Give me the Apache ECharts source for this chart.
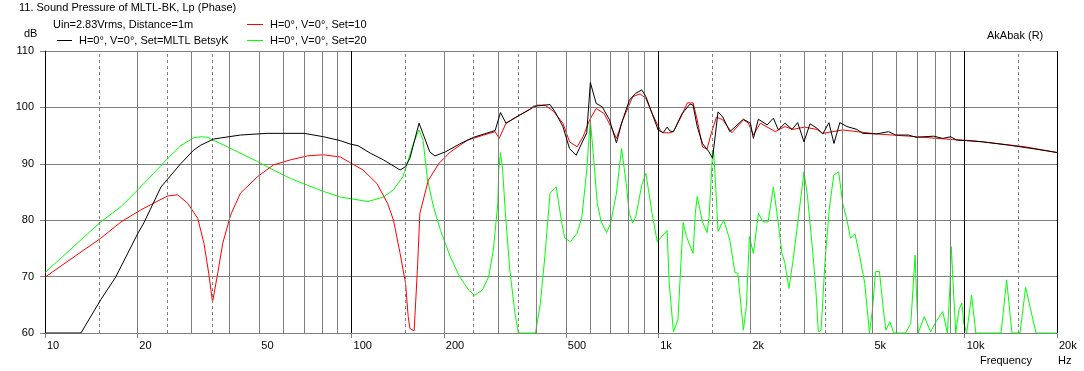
<!DOCTYPE html>
<html>
<head>
<meta charset="utf-8">
<script src="https://cdn.jsdelivr.net/npm/echarts@6/dist/echarts.min.js"></script>
<style>html,body{margin:0;padding:0;background:#fff}#c{width:1084px;height:371px}</style>
</head>
<body>
<div id="c"></div>
<script>
// ---- data ----
const blackFreq = [10,13.1,15.2,17.0,20.1,21.0,23.9,27.7,30.5,32.2,35.5,43.4,53,70,81,92,99,105,115,127,144,150,155,166,180,187,202,225,250,294,306,319,355,383,392,444,461,489,514,540,564,585,601,628,657,694,731,760,806,845,884,912,956,1000,1038,1070,1094,1122,1197,1271,1300,1341,1395,1466,1505,1568,1625,1713,1897,2000,2045,2123,2268,2376,2467,2592,2734,2852,2990,3130,3296,3445,3606,3745,3914,4131,4449,4650,5159,5642,5960,6560,6940,7920,8480,8990,9420,10150,11420,13980,17080,20000];
const blackDb = [60,60,65.9,69.9,77.7,79.5,85.9,90.0,92.4,93.3,94.4,95.1,95.4,95.4,94.8,94.1,93.5,93.2,91.9,90.7,88.9,89.5,91.0,97.2,92.1,91.4,92.1,93.5,94.7,95.9,99.1,97.2,98.7,99.7,100.2,100.5,99.2,96.6,92.7,91.5,93.7,95.5,104.4,100.7,100.1,97.8,93.7,97.2,101.3,102.5,103.1,101.9,98.9,96.0,95.5,96.5,95.8,95.7,98.9,100.6,100.4,96.6,93.6,92.1,91.0,99.2,98.3,95.7,97.9,97.2,94.5,97.9,96.9,98.1,96.0,97.2,96.1,97.3,93.9,97.1,96.3,95.3,97.3,93.6,97.3,96.6,96.1,95.4,95.3,95.7,95.1,95.1,94.7,94.9,94.5,94.8,94.2,94.1,93.9,93.3,92.6,92.0];

const redFreq = [10,15.2,17.7,20.5,23.9,25.2,27.1,29.2,31.5,33.0,34.2,35.2,36.6,38.0,40.3,43.4,49.3,55.6,63.2,71.8,81,92,99,109,121,131,137,144,150,153,155,160,164,167,178,193,210,239,270,294,303,319,355,383,403,427,454,489,514,544,569,598,628,667,710,731,767,826,873,912,956,1015,1038,1094,1122,1197,1245,1300,1341,1395,1444,1490,1550,1625,1740,1897,1970,2045,2155,2412,2592,2747,3003,3296,3445,4000,5159,6560,9120,10610,15800,20000];
const redDb = [69.9,76.8,79.7,81.8,83.7,84.3,84.5,83.0,80.3,75.9,70.6,65.5,70.6,75.9,80.9,84.8,87.7,89.8,90.7,91.4,91.6,91.2,90.2,88.9,86.5,83.0,80.0,74.1,68.8,62.9,60.8,60.4,71.3,81.2,87.1,90.1,92.1,94.2,95.1,95.7,94.5,97.2,98.7,99.7,100.4,100.4,99.4,97.2,93.9,93.0,94.8,97.8,99.8,98.9,96.0,94.5,97.8,101.9,102.4,101.6,98.9,96.0,95.5,95.5,95.7,98.7,100.8,100.8,97.8,93.0,92.6,95.4,98.3,97.8,95.5,97.8,97.2,95.1,97.2,95.7,96.6,96.1,96.5,96.1,95.4,96.0,95.3,94.9,94.3,94.1,93.0,92.0];

const greenFreq = [10,15.2,17.7,20.1,22.6,25.2,27.7,30.5,32.2,33.9,39.4,49.3,55.6,63.2,71.8,81,92,105,113,127,137,147,152,159,166,171,177,185,195,210,225,241,252,267,280,290,300,302,306,311,317,328,341,350,398,413,427,444,465,485,496,518,544,564,585,601,614,633,652,679,700,731,760,787,805,826,845,884,912,956,993,1070,1086,1122,1160,1206,1237,1300,1322,1341,1395,1444,1466,1505,1515,1543,1568,1637,1713,1780,1820,1897,1940,1985,2045,2123,2200,2285,2376,2450,2536,2592,2670,2747,2870,2990,3070,3190,3270,3330,3400,3505,3615,3740,3880,4000,4130,4240,4385,4550,4720,4890,5000,5120,5270,5430,5530,5700,5870,6410,6670,6890,6940,7050,7380,7740,8000,8480,8780,8950,9040,9120,9210,9350,9570,9780,9930,10150,10530,10870,13140,13700,14260,15150,15800,17080,20000];
const greenDb = [70.7,79.7,82.4,85.4,88.3,91.0,93.2,94.6,94.8,94.7,93.0,90.4,88.9,87.4,86.2,85.1,84.1,83.6,83.3,84.1,85.4,87.7,90.1,93.6,96.0,94.2,87.1,82.4,78.2,73.5,70.0,67.6,66.7,67.6,70.0,74.7,83.0,88.9,92.0,88.9,81.8,71.3,63.6,60,60,65.3,73.5,84.8,85.9,79.5,76.8,76.2,77.7,80.6,88.9,97.8,91.9,83.0,79.7,77.8,79.5,84.8,92.7,86.5,81.2,79.5,80.6,86.2,88.3,81.2,76.2,78.2,69.0,60.2,62.3,79.6,77.1,74.1,81.2,84.2,79.7,77.8,80.6,91.9,92.7,85.4,78.0,80.0,76.5,70.7,70.6,60.5,64.7,77.1,74.1,81.2,79.7,79.7,85.9,80.6,74.1,72.4,67.9,72.4,80.6,88.6,84.2,74.7,67.6,60.2,60.5,73.0,81.9,88.0,88.6,83.0,80.0,76.8,77.6,73.5,68.8,60,64.1,70.9,70.9,64.1,60.5,62.0,60,60,61.7,73.8,68.8,60,62.9,60.2,61.7,63.8,60,68.2,75.3,71.2,66.5,60,64.1,65.3,61.7,60,66.7,60,60,69.4,60,60,68.1,60,60];

const xLabelValues = [10,20,50,100,200,500,1000,2000,5000,10000,20000];
const xTickValues = [10,20,100,200,500,1000,10000,20000];
const xSolidGrid = [20,30,40,50,60,70,80,90,200,300,400,500,600,700,800,900,2000,3000,4000,5000,6000,7000,8000,9000];
const xBlackGrid = [100,1000,10000,20000];
const xDashedGrid = [15,25,35,150,250,350,1500,2500,3500,15000];
const yMin = 60, yMax = 110, yStep = 10;

const seriesNames = ['H=0°, V=0°, Set=MLTL BetsyK','H=0°, V=0°, Set=10','H=0°, V=0°, Set=20'];
const seriesColors = ['#000000','#ff0000','#00ff00'];

function pairs(f, v){ return f.map((x,i)=>[x, v[i]]); }
function fmtHz(v){ return v >= 1000 ? (v/1000) + 'k' : String(v); }

const FONT = 'Liberation Sans';
const gridMarks = [];
xSolidGrid.forEach(v => gridMarks.push({xAxis: v, lineStyle: {color: '#808080', width: 1, type: 'solid'}}));
xDashedGrid.forEach(v => gridMarks.push({xAxis: v, lineStyle: {color: '#808080', width: 1, type: [3,3]}}));
xBlackGrid.forEach(v => gridMarks.push({xAxis: v, lineStyle: {color: '#000000', width: 1, type: 'solid'}}));

// legend drawn as line + label (key position, series index)
const legendSpots = [{x: 57, y: 40.5, w: 15, i: 0}, {x: 247, y: 24.5, w: 16, i: 1}, {x: 247, y: 40.5, w: 16, i: 2}];
const legendGraphics = [];
legendSpots.forEach(s => {
  legendGraphics.push({type: 'line', silent: true, z: 10,
    shape: {x1: s.x, y1: s.y, x2: s.x + s.w, y2: s.y},
    style: {stroke: seriesColors[s.i], lineWidth: 1}});
  legendGraphics.push({type: 'text', silent: true, z: 10, x: s.x + s.w + 7, y: s.y,
    style: {text: seriesNames[s.i], font: '11px ' + FONT, fill: '#000', verticalAlign: 'middle', align: 'left'}});
});

const chart = echarts.init(document.getElementById('c'), null, {renderer: 'canvas'});
chart.setOption({
  animation: false,
  backgroundColor: '#ffffff',
  textStyle: {fontFamily: FONT, fontSize: 11, color: '#000'},
  title: {
    text: '11. Sound Pressure of MLTL-BK, Lp (Phase)',
    left: 19, top: 2, padding: 0,
    textStyle: {fontFamily: FONT, fontSize: 11, fontWeight: 'normal', color: '#000'}
  },
  graphic: [
    {type: 'text', left: 53, top: 19, style: {text: 'Uin=2.83Vrms, Distance=1m', font: '11px ' + FONT, fill: '#000'}},
    {type: 'text', left: 24, top: 28, style: {text: 'dB', font: '11px ' + FONT, fill: '#000'}},
    {type: 'text', left: 987, top: 30, style: {text: 'AkAbak (R)', font: '11px ' + FONT, fill: '#000'}},
    {type: 'text', left: 980, top: 355, style: {text: 'Frequency', font: '11px ' + FONT, fill: '#000'}},
    {type: 'text', left: 1058, top: 355, style: {text: 'Hz', font: '11px ' + FONT, fill: '#000'}}
  ].concat(legendGraphics),
  grid: {left: 45, right: 27, top: 51, bottom: 38, containLabel: false},
  xAxis: {
    type: 'log', logBase: 10, min: 10, max: 20000,
    axisLine: {show: true, lineStyle: {color: '#808080', width: 1}},
    axisTick: {show: true, customValues: xTickValues, length: 5, lineStyle: {color: '#808080'}},
    axisLabel: {show: true, customValues: xLabelValues, formatter: v => fmtHz(v), align: 'left',
      margin: 7, fontFamily: FONT, fontSize: 11, color: '#000', padding: [0,0,0,2]},
    splitLine: {show: false},
    minorTick: {show: false}
  },
  yAxis: {
    type: 'value', min: yMin, max: yMax, interval: yStep,
    axisLine: {show: true, lineStyle: {color: '#000', width: 1}},
    axisTick: {show: true, length: 5, lineStyle: {color: '#808080'}},
    axisLabel: {margin: 11, fontFamily: FONT, fontSize: 11, color: '#000', padding: [0,0,8,0]},
    splitLine: {show: true, lineStyle: {color: '#808080', width: 1}}
  },
  series: [
    {name: 'grid', type: 'line', data: [], silent: true,
     markLine: {silent: true, symbol: ['none','none'], label: {show: false}, animation: false, data: gridMarks}},
    {name: seriesNames[2], type: 'line', data: pairs(greenFreq, greenDb), showSymbol: false, symbol: 'none',
     color: seriesColors[2], lineStyle: {color: seriesColors[2], width: 1}, z: 3},
    {name: seriesNames[1], type: 'line', data: pairs(redFreq, redDb), showSymbol: false, symbol: 'none',
     color: seriesColors[1], lineStyle: {color: seriesColors[1], width: 1}, z: 4},
    {name: seriesNames[0], type: 'line', data: pairs(blackFreq, blackDb), showSymbol: false, symbol: 'none',
     color: seriesColors[0], lineStyle: {color: seriesColors[0], width: 1}, z: 5}
  ]
});
</script>
</body>
</html>
